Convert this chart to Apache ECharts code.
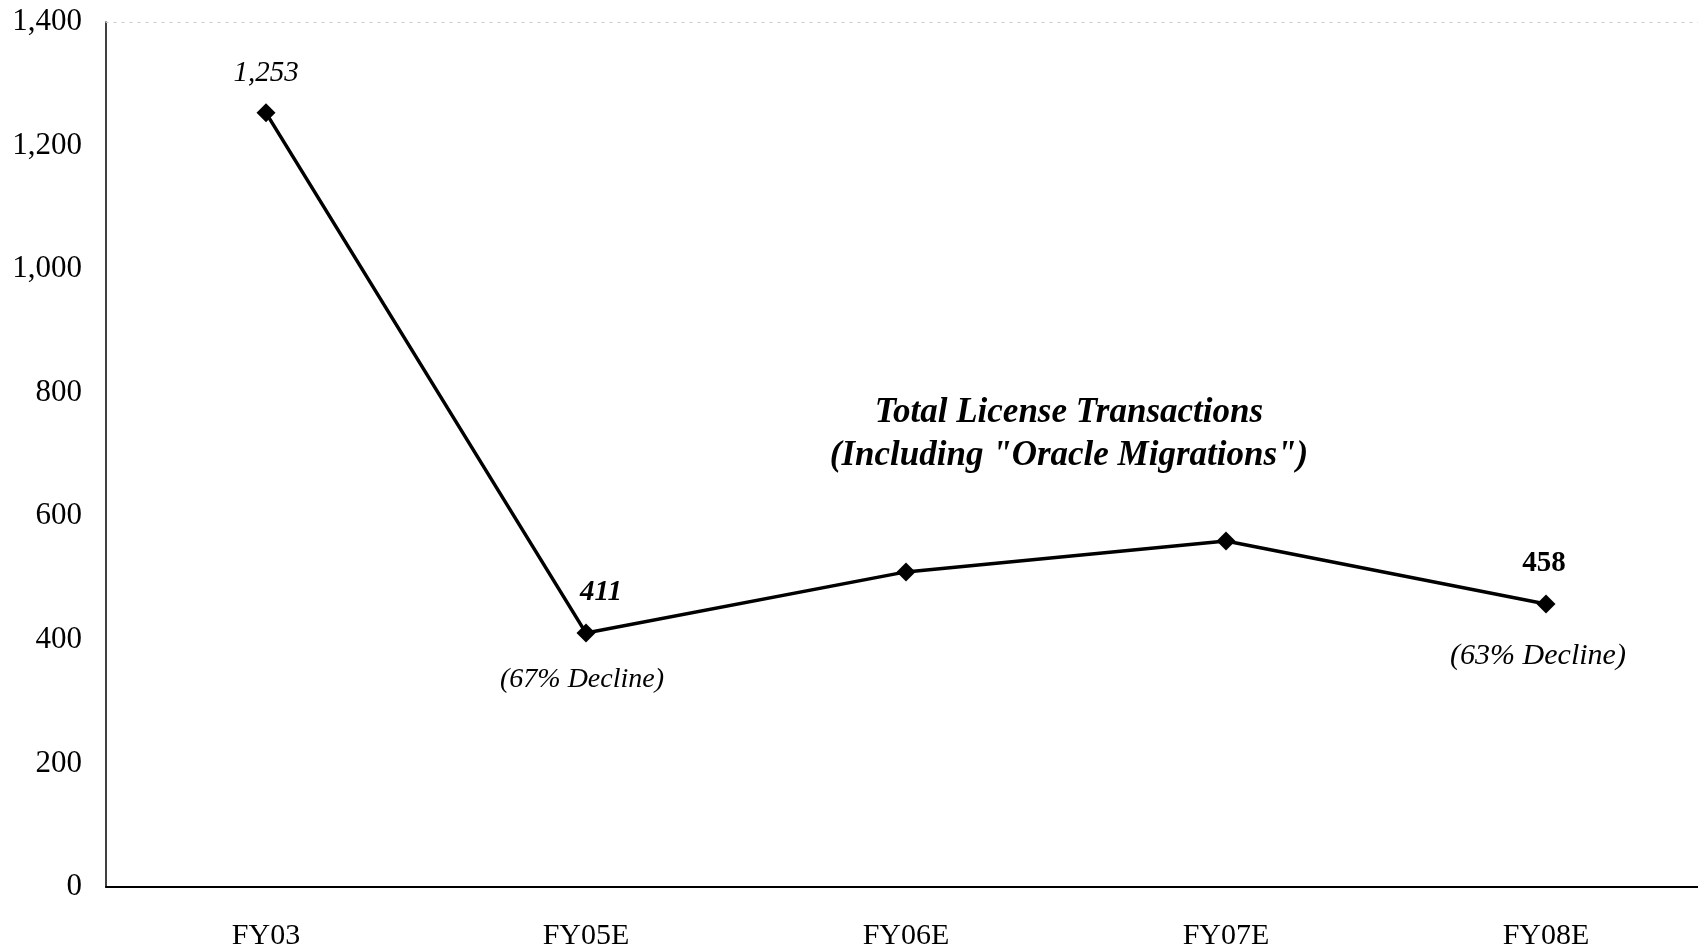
<!DOCTYPE html>
<html>
<head>
<meta charset="utf-8">
<script src="https://cdn.jsdelivr.net/npm/echarts@6/dist/echarts.min.js"></script>
<style>
html,body{margin:0;padding:0;background:#fff;overflow:hidden;}
#chart{width:1706px;height:951px;}
</style>
</head>
<body>
<div id="chart"></div>
<script>
// ---- data ----
const categories = ['FY03', 'FY05E', 'FY06E', 'FY07E', 'FY08E'];
const values = [1253, 411, 510, 560, 458];
const valueLabels = ['1,253', '411', '', '', '458'];
const declineNotes = ['', '(67% Decline)', '', '', '(63% Decline)'];
const yMin = 0, yMax = 1400, yStep = 200;
const annotationLines = ['Total License Transactions', '(Including "Oracle Migrations")'];

// ---- styles ----
const serif = '"Liberation Serif", "DejaVu Serif", serif';
const valueLabelStyle = [
  { fontStyle: 'italic', fontWeight: 'normal', distance: 15, offset: [0, 0] },
  { fontStyle: 'italic', fontWeight: 'bold', distance: 17, offset: [15, 0] },
  {}, {},
  { fontStyle: 'normal', fontWeight: 'bold', distance: 17, offset: [-2, 0] }
];
const noteStyle = [
  {}, { offset: [-4, 0], fontSize: 28 }, {}, {}, { offset: [-8, 4], fontSize: 30 }
];

const chart = echarts.init(document.getElementById('chart'), null, { renderer: 'canvas' });

const lineData = values.map((v, i) => ({
  value: v,
  label: valueLabels[i] ? Object.assign({
    show: true,
    formatter: valueLabels[i],
    position: 'top',
    distance: 19,
    color: '#000',
    fontFamily: serif,
    fontSize: 29
  }, valueLabelStyle[i]) : { show: false }
}));

const noteData = values.map((v, i) => ({
  value: v,
  label: declineNotes[i] ? Object.assign({
    show: true,
    formatter: declineNotes[i],
    position: 'bottom',
    distance: 33,
    color: '#000',
    opacity: 1,
    fontFamily: serif,
    fontStyle: 'italic',
    fontSize: 28
  }, noteStyle[i]) : { show: false }
}));

chart.setOption({
  backgroundColor: '#fff',
  animation: false,
  grid: { left: 106, top: 22, width: 1600, height: 865, containLabel: false },
  xAxis: [{
    type: 'category',
    data: categories,
    boundaryGap: true,
    position: 'bottom',
    axisLine: { show: true, lineStyle: { color: '#000', width: 2 } },
    axisTick: { show: false },
    axisLabel: { color: '#000', fontFamily: serif, fontSize: 30, margin: 34 },
    splitLine: { show: false }
  }, {
    type: 'category',
    data: categories,
    boundaryGap: true,
    position: 'top',
    axisLine: { show: true, lineStyle: { color: '#c8c8c8', width: 1, type: [2, 6] } },
    axisTick: { show: false },
    axisLabel: { show: false },
    splitLine: { show: false }
  }],
  yAxis: {
    type: 'value',
    min: yMin, max: yMax, interval: yStep,
    axisLine: { show: true, lineStyle: { color: '#000', width: 1.5 } },
    axisTick: { show: false },
    splitLine: { show: false },
    axisLabel: {
      color: '#000', fontFamily: serif, fontSize: 31, margin: 24,
      formatter: v => v.toLocaleString('en-US')
    }
  },
  series: [{
    type: 'line',
    data: lineData,
    symbol: 'diamond',
    symbolSize: 19,
    lineStyle: { color: '#000', width: 3.5 },
    itemStyle: { color: '#000' },
    z: 3
  }, {
    type: 'scatter',
    data: noteData,
    symbolSize: 0,
    itemStyle: { opacity: 1, color: '#000' },
    silent: true,
    z: 4
  }],
  graphic: annotationLines.map((t, i) => ({
    type: 'text',
    style: {
      text: t,
      x: 1069,
      y: 413 + i * 43,
      textAlign: 'center',
      textVerticalAlign: 'middle',
      fill: '#000',
      font: 'italic bold 35px ' + serif
    }
  }))
});
</script>
</body>
</html>
